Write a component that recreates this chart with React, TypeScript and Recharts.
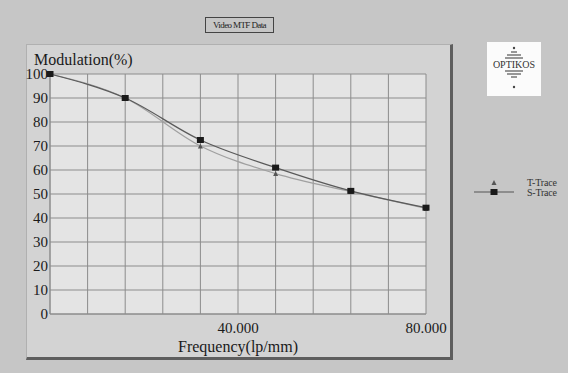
import React from 'react';
import { LineChart, Line, XAxis, YAxis, CartesianGrid } from 'recharts';

const frequency = [0, 16, 32, 48, 64, 80];
const tTrace = [100, 90, 70, 58.5, 51, 44];
const sTrace = [100, 90, 72.5, 61, 51.3, 44.3];
const xTicks = [0, 8, 16, 24, 32, 40, 48, 56, 64, 72, 80];
const yTicks = [0, 10, 20, 30, 40, 50, 60, 70, 80, 90, 100];
const labeledX = [40, 80];

const data = frequency.map((f, i) => ({ f, t: tTrace[i], s: sTrace[i] }));

const serif = '"Liberation Serif", "DejaVu Serif", serif';
const gridColor = '#8c8c8c';

const Square = (props: any) => {
  const { cx, cy } = props;
  if (cx == null || cy == null) return null;
  return <rect x={cx - 3.5} y={cy - 3} width={7} height={6} fill="#1a1a1a" />;
};

const Triangle = (props: any) => {
  const { cx, cy } = props;
  if (cx == null || cy == null) return null;
  return <polygon points={`${cx},${cy - 2.5} ${cx - 2.5},${cy + 2.5} ${cx + 2.5},${cy + 2.5}`} fill="#555" />;
};

const Logo = () => (
  <div style={{ position: 'absolute', left: 487, top: 42, width: 54, height: 54, background: '#fbfbfb' }}>
    <svg width={54} height={54}>
      <circle cx={27} cy={6} r={1.2} fill="#444" />
      <line x1={24} y1={10} x2={30} y2={10} stroke="#555" strokeWidth={1.2} />
      <line x1={20} y1={13} x2={34} y2={13} stroke="#555" strokeWidth={1.2} />
      <line x1={18} y1={16} x2={36} y2={16} stroke="#555" strokeWidth={1.2} />
      <line x1={18} y1={29} x2={36} y2={29} stroke="#555" strokeWidth={1.2} />
      <line x1={20} y1={32} x2={34} y2={32} stroke="#555" strokeWidth={1.2} />
      <line x1={24} y1={35} x2={30} y2={35} stroke="#555" strokeWidth={1.2} />
      <circle cx={27} cy={45} r={1.2} fill="#444" />
      <text x={27} y={26} textAnchor="middle" fontFamily={serif} fontSize={10} fill="#333">OPTIKOS</text>
    </svg>
  </div>
);

const TraceLegend = () => (
  <svg style={{ position: 'absolute', left: 466, top: 176 }} width={100} height={24}>
    <polygon points="28,4 25.5,9 30.5,9" fill="#555" />
    <line x1={8} y1={16} x2={48} y2={16} stroke="#555" strokeWidth={1} />
    <rect x={24.5} y={13} width={7} height={6} fill="#1a1a1a" />
    <text x={61} y={10} fontFamily={serif} fontSize={10} fill="#333" textLength={30}>T-Trace</text>
    <text x={61} y={20} fontFamily={serif} fontSize={10} fill="#333" textLength={30}>S-Trace</text>
  </svg>
);

export default function App() {
  return (
    <div style={{ position: 'absolute', left: 0, top: 0, width: 568, height: 373, background: '#c6c6c6', overflow: 'hidden', fontFamily: serif }}>
      <div
        style={{
          position: 'absolute', left: 205, top: 17, width: 67, height: 14, border: '1px solid #444',
          fontSize: 9, lineHeight: '14px', textAlign: 'center', color: '#222', letterSpacing: -0.6, whiteSpace: 'nowrap',
        }}
      >
        Video MTF Data
      </div>
      <div
        style={{
          position: 'absolute', left: 26, top: 44, width: 423, height: 312, background: '#d3d3d3',
          borderTop: '1px solid #b0b0b0', borderLeft: '1px solid #b0b0b0',
          borderRight: '3px solid #5e5e5e', borderBottom: '3px solid #5e5e5e',
        }}
      />
      <div style={{ position: 'absolute', left: 34, top: 50, fontSize: 16, color: '#1a1a1a', lineHeight: '20px' }}>
        Modulation(%)
      </div>
      <Logo />
      <TraceLegend />
      <div style={{ position: 'absolute', left: 0, top: 0 }}>
        <LineChart width={568} height={373} data={data} margin={{ top: 74, right: 142, bottom: 19, left: 0 }}>
          <CartesianGrid fill="#e4e4e4" stroke={gridColor} strokeWidth={1} horizontalValues={yTicks} verticalValues={xTicks} />
          <XAxis
            type="number"
            dataKey="f"
            domain={[0, 80]}
            ticks={xTicks}
            interval={0}
            tickSize={0}
            tickMargin={8}
            axisLine={{ stroke: gridColor }}
            tickLine={false}
            height={40}
            tick={{ fontFamily: serif, fontSize: 15, fill: '#1a1a1a' }}
            tickFormatter={(v: number) => (labeledX.includes(v) ? v.toFixed(3) : '')}
            label={{ value: 'Frequency(lp/mm)', position: 'insideBottom', offset: 2, fontFamily: serif, fontSize: 16, fill: '#1a1a1a' }}
          />
          <YAxis
            type="number"
            domain={[0, 100]}
            ticks={yTicks}
            interval={0}
            width={50}
            tickSize={0}
            tickMargin={2}
            axisLine={{ stroke: gridColor }}
            tickLine={false}
            tick={{ fontFamily: serif, fontSize: 15, fill: '#1a1a1a' }}
          />
          <Line type="monotone" dataKey="t" stroke="#a0a0a0" strokeWidth={1.2} dot={<Triangle />} activeDot={false} isAnimationActive={false} />
          <Line type="monotone" dataKey="s" stroke="#5a5a5a" strokeWidth={1.2} dot={<Square />} activeDot={false} isAnimationActive={false} />
        </LineChart>
      </div>
    </div>
  );
}
